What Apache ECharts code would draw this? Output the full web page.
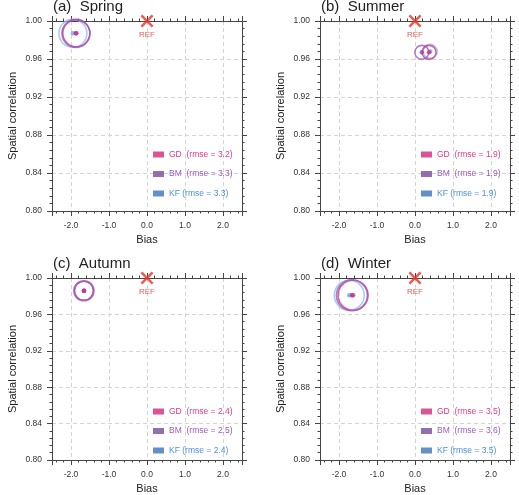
<!DOCTYPE html>
<html>
<head>
<meta charset="utf-8">
<script src="https://cdn.jsdelivr.net/npm/echarts@6/dist/echarts.min.js"></script>
<style>
  html, body { margin: 0; padding: 0; background: #fff; }
  #chart { width: 519px; height: 495px; }
</style>
</head>
<body>
<div id="chart"></div>
<script>
// panel titles and models
const panelTitles = ['(a)  Spring', '(b)  Summer', '(c)  Autumn', '(d)  Winter']
const models = ['GD', 'BM', 'KF']

// bias (x) per season: Spring, Summer, Autumn, Winter
const biasGD = [-1.86, 0.37, -1.66, -1.63]
const biasBM = [-1.87, 0.18, -1.66, -1.66]
const biasKF = [-1.95, 0.40, -1.66, -1.73]

// spatial correlation (y)
const corrGD = [0.987, 0.967, 0.986, 0.981]
const corrBM = [0.987, 0.967, 0.986, 0.981]
const corrKF = [0.987, 0.968, 0.986, 0.981]

// rmse per season (circle size + legend text)
const rmseGD = [3.2, 1.9, 2.4, 3.5]
const rmseBM = [3.3, 1.9, 2.5, 3.6]
const rmseKF = [3.3, 1.9, 2.4, 3.5]

// reference point
const refPoint = [0, 1.0]

const bias = { GD: biasGD, BM: biasBM, KF: biasKF }
const corr = { GD: corrGD, BM: corrBM, KF: corrKF }
const rmse = { GD: rmseGD, BM: rmseBM, KF: rmseKF }

// styling
const FONT = '"Liberation Sans", Arial, sans-serif'
const circleColor = { GD: '#c93c8c', BM: '#9a5cbc', KF: '#94c0ec' }
const dotColor = { GD: '#d0308a', BM: '#8a48aa', KF: '#6aa8e6' }
const rectColor = { GD: '#d22a7c', BM: '#7a4a9c', KF: '#3c74b8' }
const textColor = { GD: '#e23a8e', BM: '#9b5cc0', KF: '#4a90e0' }
const refColor = '#e8332a'
const axisColor = '#444'

const gridLeft = [52, 320, 52, 320]
const gridTop = [21, 21, 278, 278]
const SIZE = 190

const legendName = (m, i) => `${m}${m === 'KF' ? ' ' : '  '}(rmse = ${rmse[m][i].toFixed(1)})`
const circleSize = r => 10 * (r - 0.5)

const X_SHAPE = 'path://M2,0 L7,5 L12,0 L14,2 L9,7 L14,12 L12,14 L7,9 L2,14 L0,12 L5,7 L0,2 Z'

const grids = []
const xAxes = []
const yAxes = []
const titles = []
const legends = []
const series = []

const tickStyle = {
  axisLine: { show: true, onZero: false, lineStyle: { color: axisColor, width: 1 } },
  axisTick: { show: true, inside: false, length: 5, lineStyle: { color: axisColor } },
  minorTick: { show: true, splitNumber: 5, length: 2.5, lineStyle: { color: axisColor } }
}

panelTitles.forEach((t, i) => {
  grids.push({ left: gridLeft[i], top: gridTop[i], width: SIZE, height: SIZE })

  titles.push({
    text: t,
    left: gridLeft[i] - 4,
    top: gridTop[i] - 27,
    textStyle: { fontFamily: FONT, fontSize: 15, fontWeight: 'normal', color: '#222' }
  })

  // bottom x axis
  xAxes.push({
    gridIndex: i, type: 'value', min: -2.5, max: 2.5, splitNumber: 5,
    name: 'Bias', nameLocation: 'middle', nameGap: 23,
    nameTextStyle: { fontFamily: FONT, fontSize: 11, color: '#222' },
    ...tickStyle,
    axisLabel: {
      fontFamily: FONT, fontSize: 8.5, color: '#333', margin: 10,
      showMinLabel: false, showMaxLabel: false,
      formatter: v => v.toFixed(1)
    },
    splitLine: { show: true, lineStyle: { color: '#d4d4d4', type: [4, 3], width: 1 } }
  })

  // left y axis
  yAxes.push({
    gridIndex: i, type: 'value', min: 0.8, max: 1.0, interval: 0.04,
    name: 'Spatial correlation', nameLocation: 'middle', nameGap: 34,
    nameTextStyle: { fontFamily: FONT, fontSize: 11, color: '#222' },
    ...tickStyle,
    axisLabel: { fontFamily: FONT, fontSize: 8.5, color: '#333', margin: 10, formatter: v => v.toFixed(2) },
    splitLine: { show: true, lineStyle: { color: '#d4d4d4', type: [4, 3], width: 1 } }
  })

  legends.push({
    orient: 'vertical',
    left: gridLeft[i] + 96,
    top: gridTop[i] + 124,
    itemWidth: 11, itemHeight: 6, itemGap: 10.5,
    selectedMode: false,
    textStyle: { fontFamily: FONT, fontSize: 8.5 },
    data: models.map(m => ({
      name: legendName(m, i),
      icon: 'rect',
      itemStyle: { color: rectColor[m], borderWidth: 0 },
      textStyle: { color: textColor[m] }
    }))
  })
})

// mirror axes on top and right (ticks only)
panelTitles.forEach((t, i) => {
  xAxes.push({
    gridIndex: i, type: 'value', position: 'top', min: -2.5, max: 2.5, splitNumber: 5,
    ...tickStyle, axisLabel: { show: false }, splitLine: { show: false }
  })
  yAxes.push({
    gridIndex: i, type: 'value', position: 'right', min: 0.8, max: 1.0, interval: 0.04,
    ...tickStyle, axisLabel: { show: false }, splitLine: { show: false }
  })
})

panelTitles.forEach((t, i) => {
  // circles: KF underneath, BM on top
  ;['KF', 'GD', 'BM'].forEach(m => {
    series.push({
      type: 'scatter', name: legendName(m, i), xAxisIndex: i, yAxisIndex: i,
      clip: false, z: 3,
      symbol: 'circle', symbolSize: circleSize(rmse[m][i]),
      itemStyle: { color: 'transparent', borderColor: circleColor[m], borderWidth: 1.6 },
      data: [[bias[m][i], corr[m][i]]]
    })
  })
  ;['KF', 'BM', 'GD'].forEach(m => {
    series.push({
      type: 'scatter', name: legendName(m, i), xAxisIndex: i, yAxisIndex: i,
      clip: false, z: 4,
      symbol: 'circle', symbolSize: 4.5,
      itemStyle: { color: dotColor[m] },
      data: [[bias[m][i], corr[m][i]]]
    })
  })
  series.push({
    type: 'scatter', name: 'REF', xAxisIndex: i, yAxisIndex: i,
    clip: false, z: 5,
    symbol: X_SHAPE, symbolSize: 13,
    itemStyle: { color: refColor },
    label: {
      show: true, position: 'bottom', distance: 3, formatter: 'REF',
      fontFamily: FONT, fontSize: 8, color: refColor
    },
    data: [refPoint]
  })
})

const chart = echarts.init(document.getElementById('chart'))
chart.setOption({
  animation: false,
  backgroundColor: '#fff',
  title: titles,
  grid: grids,
  xAxis: xAxes,
  yAxis: yAxes,
  legend: legends,
  series
})
</script>
</body>
</html>
